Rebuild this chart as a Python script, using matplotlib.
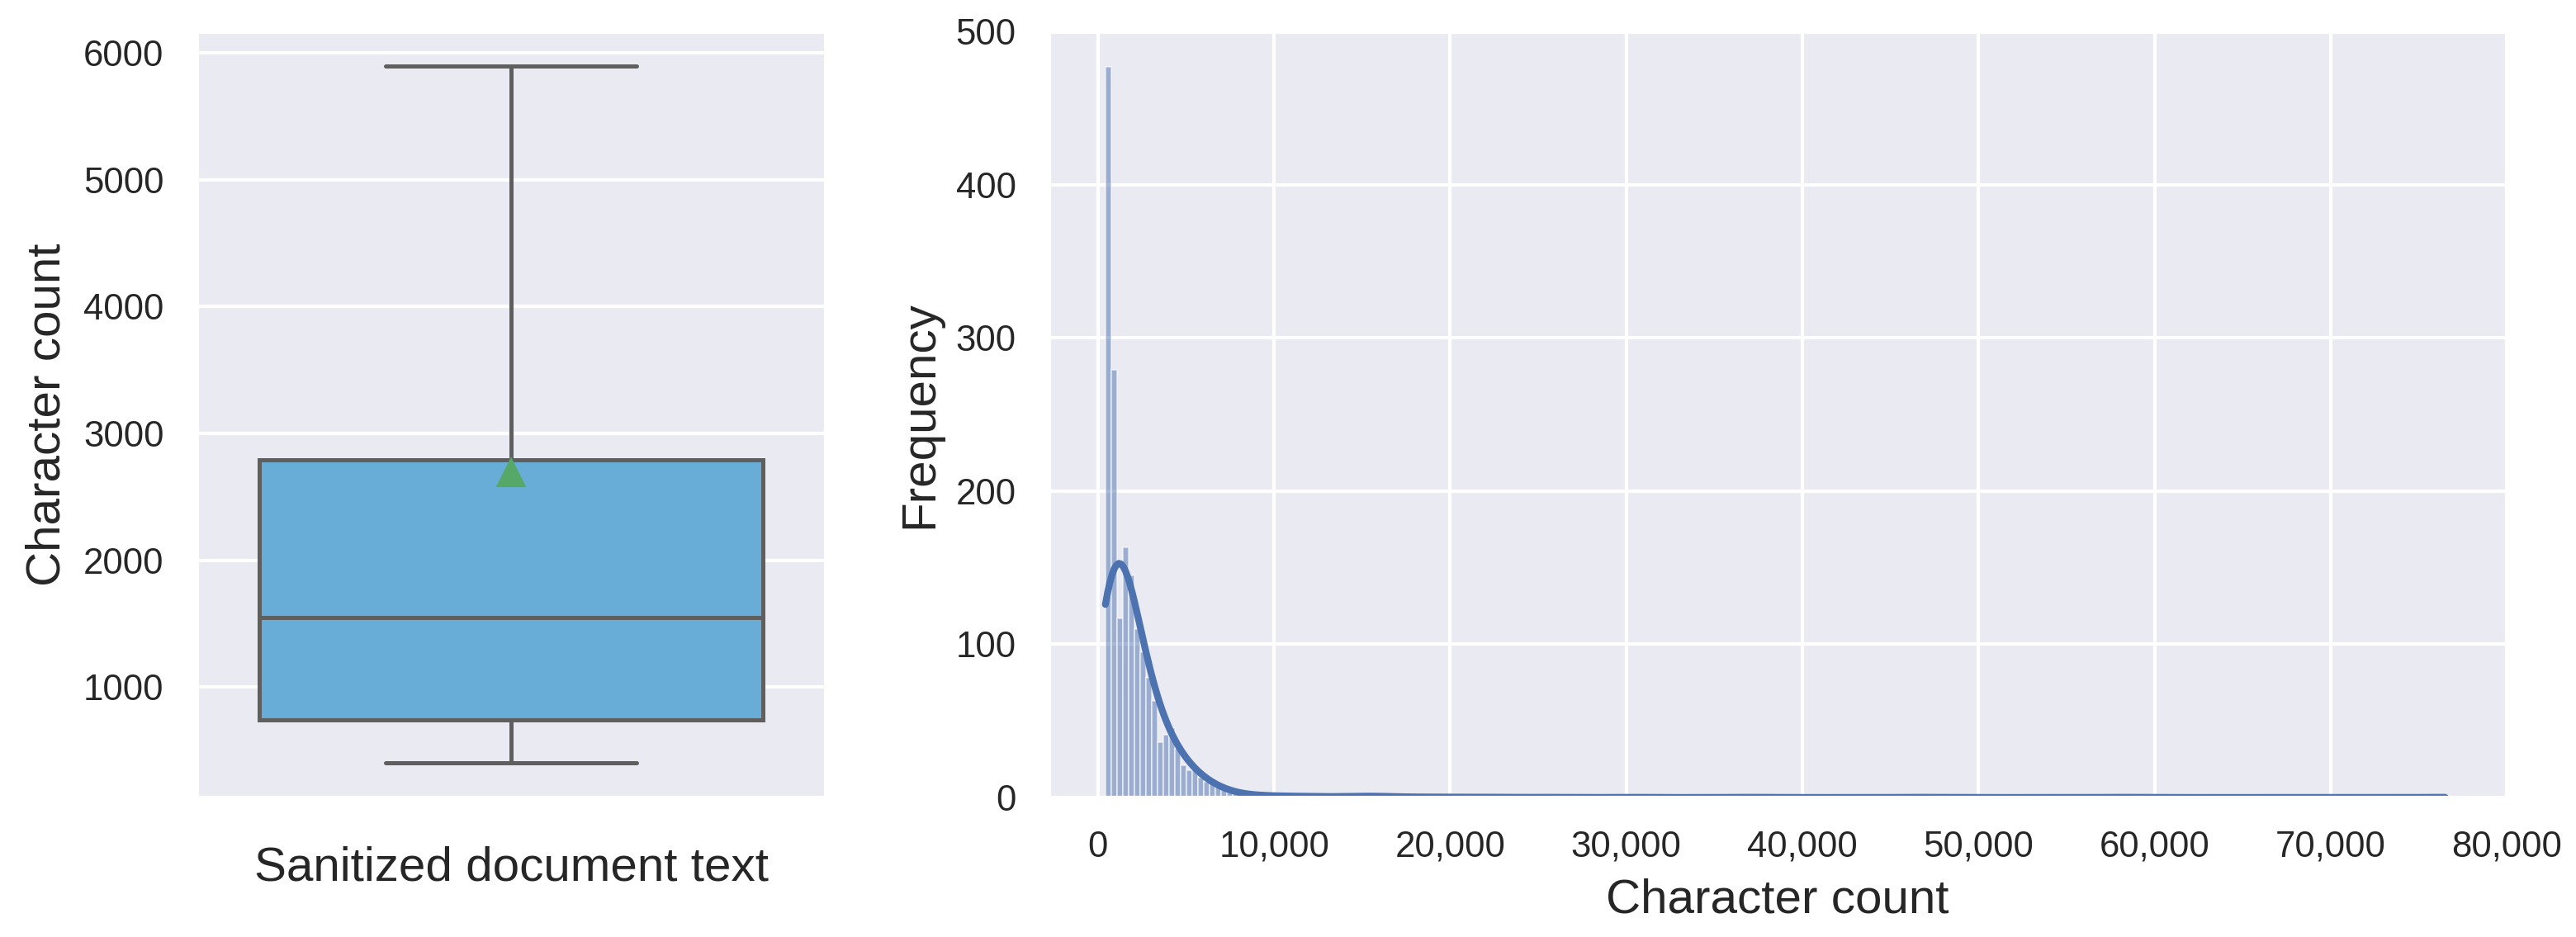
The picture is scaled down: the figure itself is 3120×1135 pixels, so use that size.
"""Character count of sanitized documents: box plot and histogram."""

import matplotlib

matplotlib.use("Agg")
import matplotlib.pyplot as plt
import matplotlib.ticker as mticker
import numpy as np
import seaborn as sns

# box plot summary (character count)
box_label = "Sanitized document text"
box_whisker_low = 403
box_q1 = 740
box_median = 1545
box_q3 = 2790
box_whisker_high = 5896
box_mean = 2690

# histogram: range of the data and number of bins
hist_min = 420
hist_max = 76500
hist_bins = 232

# counts of the first bins, read left to right
hist_head_counts = [477, 279, 117, 163, 145, 110, 95, 78, 63, 36, 41, 45,
                    32, 21, 18, 18, 13, 10, 9, 7, 5, 3, 2]

# sparse tail: bin index -> count
tail_bin_index = [23, 24, 25, 26, 27, 28, 29, 30, 31, 33, 34, 36, 38, 40,
                  42, 44, 45, 46, 48, 50, 53, 56, 60, 64, 75, 90, 110, 140,
                  175, 231]
tail_bin_count = [2, 2, 1, 2, 1, 1, 1, 1, 1, 1, 2, 1, 1, 1,
                  1, 1, 3, 1, 1, 1, 1, 1, 1, 1, 1, 1, 1, 1,
                  1, 1]

x_tick_values = [0, 10000, 20000, 30000, 40000, 50000, 60000, 70000, 80000]
y_tick_values = [0, 100, 200, 300, 400, 500]
box_y_ticks = [1000, 2000, 3000, 4000, 5000, 6000]

sns.set_theme(style="darkgrid")
plt.rcParams["font.family"] = ["Liberation Sans", "DejaVu Sans"]
plt.rcParams["text.color"] = "#262626"
plt.rcParams["axes.labelcolor"] = "#262626"
plt.rcParams["xtick.color"] = "#262626"
plt.rcParams["ytick.color"] = "#262626"

fig = plt.figure(figsize=(10.4, 1135 / 300))
ax_box = fig.add_axes([0.0763, 0.1489, 0.2442, 0.8176])
ax_hist = fig.add_axes([0.4071, 0.1489, 0.566, 0.8176])

# --- box plot
stats = [{
    "label": box_label,
    "whislo": box_whisker_low,
    "q1": box_q1,
    "med": box_median,
    "q3": box_q3,
    "whishi": box_whisker_high,
    "mean": box_mean,
    "fliers": [],
}]
line_color = "#5f5f5f"
ax_box.bxp(
    stats,
    positions=[0],
    widths=0.8,
    capwidths=0.4,
    patch_artist=True,
    showmeans=True,
    showfliers=False,
    boxprops=dict(facecolor="#67add7", edgecolor=line_color, linewidth=1.2),
    medianprops=dict(color=line_color, linewidth=1.2),
    whiskerprops=dict(color=line_color, linewidth=1.2),
    capprops=dict(color=line_color, linewidth=1.2),
    meanprops=dict(marker="^", markerfacecolor="#55a868",
                   markeredgecolor="#55a868", markersize=7),
)
ax_box.set_xlim(-0.5, 0.5)
ax_box.set_xticks([])
ax_box.set_yticks(box_y_ticks)
ax_box.tick_params(axis="y", labelsize=10.5)
ax_box.set_ylabel("Character count", fontsize=14)
ax_box.set_xlabel(box_label, fontsize=14, labelpad=14)

# --- histogram
edges = np.linspace(hist_min, hist_max, hist_bins + 1)
counts = np.zeros(hist_bins)
counts[:len(hist_head_counts)] = hist_head_counts
counts[tail_bin_index] = tail_bin_count
centers = (edges[:-1] + edges[1:]) / 2
bin_width = edges[1] - edges[0]

blue = sns.color_palette("deep")[0]
ax_hist.hist(centers, bins=edges, weights=counts, color=blue, alpha=0.5,
             edgecolor="white", linewidth=0.5)

# smoothed curve (gaussian kde, scott's rule on the document count), in counts
bw_adjust = 1.35
n_docs = counts.sum()
w = counts / n_docs
mean = np.sum(w * centers)
std = np.sqrt(np.sum(w * (centers - mean) ** 2))
bw = std * n_docs ** (-1 / 5) * bw_adjust
grid = np.linspace(hist_min, hist_max, 600)
dens = (w[None, :] * np.exp(-0.5 * ((grid[:, None] - centers[None, :]) / bw) ** 2)).sum(axis=1)
dens /= bw * np.sqrt(2 * np.pi)
ax_hist.plot(grid, dens * n_docs * bin_width, color=blue, linewidth=2)

ax_hist.set_xlim(-2800, 79850)
ax_hist.set_ylim(0, 500)
ax_hist.set_xticks(x_tick_values)
ax_hist.set_yticks(y_tick_values)
ax_hist.xaxis.set_major_formatter(mticker.StrMethodFormatter("{x:,.0f}"))
ax_hist.tick_params(labelsize=10.5)
ax_hist.set_xlabel("Character count", fontsize=14)
ax_hist.set_ylabel("Frequency", fontsize=14)

fig.savefig("out.png", dpi=300)
